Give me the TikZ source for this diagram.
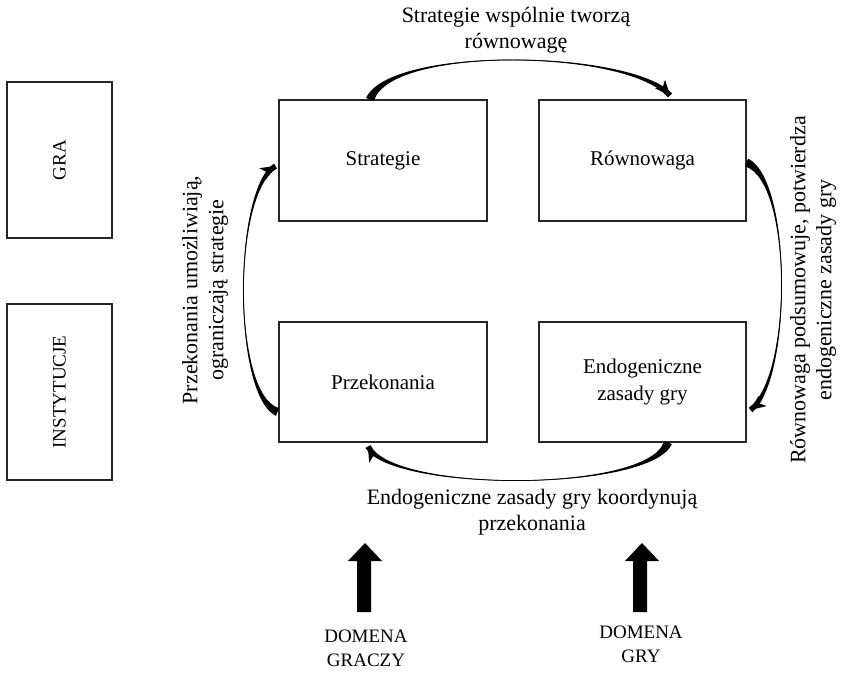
\documentclass[tikz,border=0pt]{standalone}
\usepackage{fontspec}
\setmainfont{Liberation Serif}
\usetikzlibrary{calc,arrows.meta}

\tikzset{
  box/.style={draw=black!85, line width=1.1pt, inner sep=2pt, align=center,
              font=\fontsize{21}{27}\selectfont},
  label/.style={align=center, font=\fontsize{22}{26}\selectfont, inner sep=0pt},
  caps/.style={align=center, font=\fontsize{19}{24}\selectfont, inner sep=0pt},
  brush/.style={fill=black},
  hairline/.style={draw=black, line width=0.6pt},
  tiphead/.style={draw=black, line width=1pt, -{Stealth[length=15pt,width=13pt,inset=4pt]}},
  blockarrow/.style={fill=black}
}

% Curved connector drawn as a brush stroke: heavy where it leaves the start,
% a hairline through the middle, heavier again before the arrow head.
% #1 start, #2 first control, #3 second control, #4 end (all named coordinates)
\newcommand\brushconn[4]{%
  \fill[brush] ($(#1)!4.2pt!90:(#2)$) .. controls (#2) and (#3) .. ($(#4)!2.9pt!-90:(#3)$)
     -- ($(#4)!2.9pt!90:(#3)$) .. controls (#3) and (#2) .. ($(#1)!4.2pt!-90:(#2)$) -- cycle;
  \draw[hairline] (#1) .. controls (#2) and (#3) .. (#4);
  \draw[tiphead] ($(#4)!6pt!(#3)$) -- (#4);
}

\begin{document}
\begin{tikzpicture}[x=1pt, y=-1pt]
  \useasboundingbox (0,0) rectangle (846,676);

  % side captions
  \node[box, minimum width=105pt, minimum height=156pt] (gra) at (59.5,160) {};
  \node[caps, rotate=90] (gratext) at (gra.center) {GRA};
  \node[box, minimum width=105pt, minimum height=176pt] (inst) at (59.5,392) {};
  \node[caps, rotate=90] (insttext) at (inst.center) {INSTYTUCJE};

  % the four stages
  \node[box, minimum width=208pt, minimum height=121pt] (S) at (383,160.5) {Strategie};
  \node[box, minimum width=207pt, minimum height=121pt] (R) at (642.5,160.5) {Równowaga};
  \node[box, minimum width=208pt, minimum height=120pt] (P) at (383,382) {Przekonania};
  \node[box, minimum width=207pt, minimum height=120pt] (E) at (642.5,382) {Endogeniczne\\zasady gry};

  % end points and handles of the cycle of connectors
  \coordinate (t0) at ([xshift=-13pt]S.north);
  \coordinate (t3) at ([xshift=27.5pt,yshift=4pt]R.north);
  \coordinate (t1) at ($(t0)+(20,-54)$);
  \coordinate (t2) at ($(t3)+(-40,-46)$);

  \coordinate (r0) at ([yshift=-2pt]R.east);
  \coordinate (r3) at ([xshift=4pt,yshift=-28pt]E.east);
  \coordinate (r1) at ($(r0)+(46,18)$);
  \coordinate (r2) at ($(r3)+(42,-32)$);

  \coordinate (b0) at ([xshift=25.5pt]E.south);
  \coordinate (b3) at ([xshift=-15pt,yshift=-4pt]P.south);
  \coordinate (b1) at ($(b0)+(-18,50)$);
  \coordinate (b2) at ($(b3)+(24,46)$);

  \coordinate (l0) at ([xshift=-1pt,yshift=-30pt]P.west);
  \coordinate (l3) at ([xshift=-3pt,yshift=-5.5pt]S.west);
  \coordinate (l1) at ($(l0)+(-45,-17)$);
  \coordinate (l2) at ($(l3)+(-43,26)$);

  \brushconn{t0}{t1}{t2}{t3}
  \brushconn{r0}{r1}{r2}{r3}
  \brushconn{b0}{b1}{b2}{b3}
  \brushconn{l0}{l1}{l2}{l3}

  % connector labels
  \node[label] (ltop) at (516,30) {Strategie wspólnie tworzą\\równowagę};
  \node[label, rotate=90] (lright) at (813,290) {Równowaga podsumowuje, potwierdza\\endogeniczne zasady gry};
  \node[label] (lbottom) at (532,512) {Endogeniczne zasady gry koordynują\\przekonania};
  \node[label, rotate=90] (lleft) at (205,290) {Przekonania umożliwiają,\\ograniczają strategie};

  % domains below
  \fill[blockarrow] (357,612) -- (357,561) -- (348,561) -- (365,543) -- (382,561) -- (371,561) -- (371,612) -- cycle;
  \fill[blockarrow] (633,612) -- (633,561) -- (625,561) -- (642,543) -- (659,561) -- (647,561) -- (647,612) -- cycle;
  \node[caps] (dplayers) at (366,648) {DOMENA\\GRACZY};
  \node[caps] (dgame) at (641,644) {DOMENA\\GRY};
\end{tikzpicture}
\end{document}
